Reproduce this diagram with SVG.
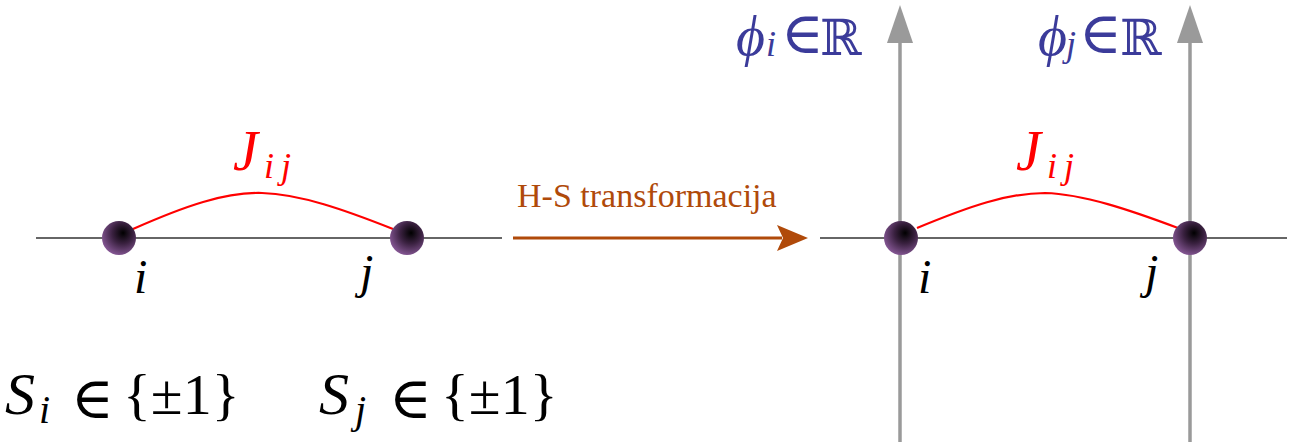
<svg xmlns="http://www.w3.org/2000/svg" width="1291" height="445" viewBox="0 0 1291 445">
<style>
.axis{stroke:#333;stroke-width:1.6;fill:none}
.bond{stroke:#ff0000;stroke-width:2.2;fill:none}
.vax{stroke:#9a9a9a;stroke-width:3.5;fill:none}
.m{font-family:"Liberation Serif","DejaVu Serif",serif;font-style:italic}
.r{font-family:"Liberation Serif","DejaVu Serif",serif}
.bb{font-family:"DejaVu Serif",serif}
.red{fill:#ff0000}
.blk{fill:#000}
.blue{fill:#3b3b9a}
</style>
<defs>
<radialGradient id="ball" cx="0.6" cy="0.38" r="0.68" fx="0.62" fy="0.35">
<stop offset="0" stop-color="#000"/>
<stop offset="0.45" stop-color="#3a2140"/>
<stop offset="1" stop-color="#8b5b9b"/>
</radialGradient>
</defs>
<g id="connectors">
<line class="axis" x1="36" y1="238" x2="502" y2="238"/>
<line class="axis" x1="820" y1="238" x2="1287" y2="238"/>
<line class="vax" x1="900" y1="442" x2="900" y2="38"/>
<polygon points="900,5 887,43 913,43" fill="#9a9a9a"/>
<line class="vax" x1="1190" y1="442" x2="1190" y2="38"/>
<polygon points="1190,5 1177,43 1203,43" fill="#9a9a9a"/>
<path class="bond" d="M133,229 C185,206 225,192 262,193 C300,194 345,210 393,229"/>
<path class="bond" d="M917,228 C970,206 1008,193 1045,193 C1083,194 1130,210 1178,228"/>
<line x1="513" y1="238" x2="782" y2="238" stroke="#b04a0a" stroke-width="3"/>
<polygon points="808,238 777,225 783,238 777,251" fill="#b04a0a"/>
</g>
<g id="node-i-left"><circle cx="119" cy="238" r="17" fill="url(#ball)"/><text class="m blk" x="134" y="293" font-size="48">i</text></g>
<g id="node-j-left"><circle cx="407" cy="238" r="17" fill="url(#ball)"/><text class="m blk" x="360" y="288" font-size="48">j</text></g>
<g id="node-i-right"><circle cx="901" cy="238" r="17" fill="url(#ball)"/><text class="m blk" x="918" y="293" font-size="48">i</text></g>
<g id="node-j-right"><circle cx="1190" cy="238" r="17" fill="url(#ball)"/><text class="m blk" x="1145" y="288" font-size="48">j</text></g>
<g id="label-Jij-left"><text class="m red" x="233" y="170" font-size="56">J<tspan font-size="36" x="264" y="178">i</tspan><tspan font-size="36" x="281" y="178">j</tspan></text></g>
<g id="label-Jij-right"><text class="m red" x="1016" y="170" font-size="56">J<tspan font-size="36" x="1047" y="178">i</tspan><tspan font-size="36" x="1064" y="178">j</tspan></text></g>
<g id="label-transform"><text class="r" x="517" y="207" font-size="34" fill="#b04a0a">H-S transformacija</text></g>
<g id="label-phi-i"><text class="blue" x="736" y="55" font-size="56"><tspan class="m">ϕ</tspan><tspan class="m" font-size="36" x="766" y="56">i</tspan><tspan class="r" font-size="58" x="781" y="53">∈</tspan><tspan class="bb" font-size="50" x="820" y="55">ℝ</tspan></text></g>
<g id="label-phi-j"><text class="blue" x="1038" y="55" font-size="56"><tspan class="m">ϕ</tspan><tspan class="m" font-size="36" x="1066" y="56">j</tspan><tspan class="r" font-size="58" x="1079" y="53">∈</tspan><tspan class="bb" font-size="50" x="1120" y="55">ℝ</tspan></text></g>
<g id="label-Si"><text class="blk" x="5" y="414" font-size="60"><tspan class="m">S</tspan><tspan class="m" font-size="40" x="39" y="423">i</tspan><tspan class="r" font-size="58" x="71" y="418">∈</tspan><tspan class="r" font-size="58" x="123" y="414">{±1}</tspan></text></g>
<g id="label-Sj"><text class="blk" x="319" y="414" font-size="60"><tspan class="m">S</tspan><tspan class="m" font-size="40" x="355" y="423">j</tspan><tspan class="r" font-size="58" x="389" y="418">∈</tspan><tspan class="r" font-size="58" x="441" y="414">{±1}</tspan></text></g>
</svg>
